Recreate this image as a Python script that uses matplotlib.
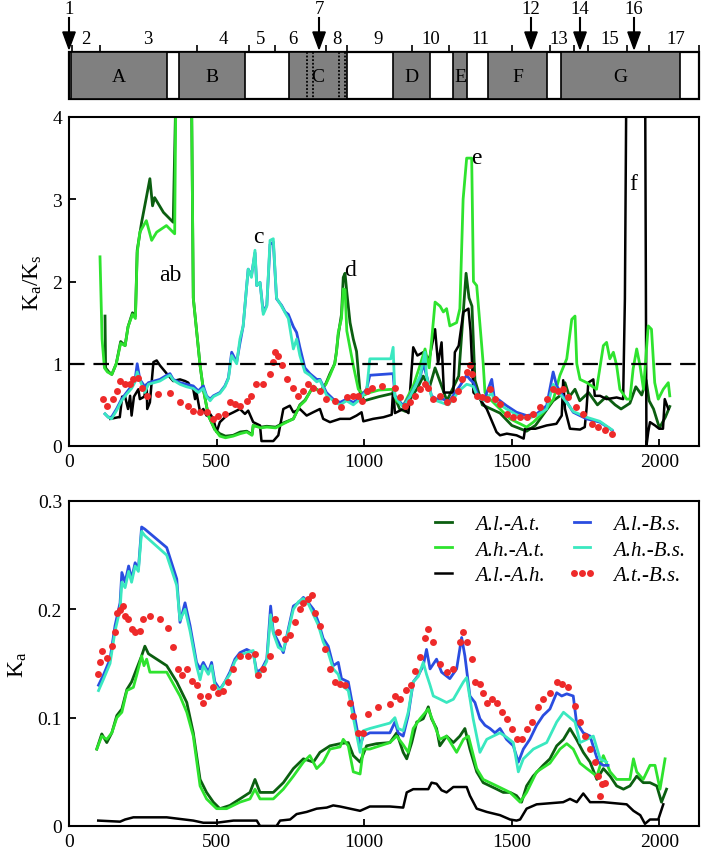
import matplotlib
matplotlib.use("Agg")
import matplotlib.pyplot as plt
from matplotlib.patches import Rectangle

plt.rcParams['font.family'] = ['Liberation Serif', 'DejaVu Serif']
plt.rcParams['mathtext.default'] = 'regular'

# ---------------- gene structure (top strip) ----------------
XMAX = 2134
domain_names = ['A', 'B', 'C', 'D', 'E', 'F', 'G']
domain_start = [7, 373, 745, 1097, 1301, 1419, 1666]
domain_end = [332, 596, 942, 1223, 1348, 1619, 2069]
dotted_pos = [805, 827, 915, 936]
exon_ticks = [10, 105, 434, 610, 698, 870, 942, 1162, 1287, 1500, 1629,
              1710, 1758, 1890, 1964]
exon_labels = ['2', '3', '4', '5', '6', '8', '9', '10', '11', '13', '15', '17']
exon_label_pos = [58, 268, 522, 650, 759, 908, 1047, 1226, 1395, 1660, 1832, 2056]
arrow_labels = ['1', '7', '12', '14', '16']
arrow_pos = [0, 847, 1565, 1731, 1914]

# ---------------- Ka/Ks (middle panel) ----------------
ks_alat_x = [122, 124, 135, 145, 160, 175, 190, 200, 215, 225, 231, 246, 263, 274, 283, 290,
             320, 353, 362, 415, 421, 444, 455, 472, 494, 511, 530, 556, 580, 602, 620, 624,
             650, 670, 700, 726, 760, 782, 800, 827, 850, 870, 884, 900, 906, 912, 923, 929,
             935, 941, 952, 963, 974, 986, 1000, 1050, 1098, 1120, 1140, 1160, 1180, 1200,
             1220, 1240, 1260, 1280, 1300, 1320, 1335, 1345, 1355, 1365, 1375, 1400, 1430,
             1460, 1500, 1550, 1580, 1610, 1640, 1663, 1680, 1695, 1714, 1730, 1760, 1790,
             1820, 1850, 1870, 1900, 1920, 1940, 1955, 1965, 1980, 2000, 2020, 2035]
ks_alat_y = [1.58, 0.95, 0.9, 0.87, 1.0, 1.27, 1.22, 1.45, 1.62, 1.58, 2.38, 2.72, 3.04, 3.25,
             2.92, 3.02, 2.84, 2.72, 4.3, 4.3, 1.8, 0.98, 0.69, 0.37, 0.2, 0.15, 0.12, 0.13,
             0.17, 0.18, 0.14, 0.25, 0.23, 0.24, 0.23, 0.28, 0.33, 0.5, 0.56, 0.72, 0.66, 0.76,
             0.88, 1.0, 1.15, 1.35, 1.6, 2.05, 2.1, 1.87, 1.5, 1.3, 1.15, 0.65, 0.55, 0.6, 0.64,
             0.45, 0.42, 0.6, 0.7, 0.85, 0.7, 0.95, 0.75, 0.55, 0.7, 0.85, 1.6, 2.1, 1.8, 1.7,
             0.8, 0.5, 0.45, 0.4, 0.25, 0.18, 0.25, 0.4, 0.55, 0.61, 0.77, 0.6, 0.69, 0.55,
             0.65, 0.5, 0.6, 0.5, 0.45, 0.52, 0.72, 0.62, 0.8, 0.55, 0.45, 0.22, 0.35, 0.48]

ks_ahat_x = [105, 112, 120, 130, 145, 160, 175, 190, 200, 215, 225, 231, 240, 262, 280, 297,
             330, 358, 362, 415, 421, 444, 455, 472, 494, 511, 530, 556, 580, 602, 620, 624,
             650, 670, 700, 726, 760, 782, 800, 827, 850, 870, 884, 900, 906, 912, 923, 929,
             935, 941, 963, 980, 1000, 1019, 1050, 1098, 1109, 1132, 1166, 1189, 1206, 1220,
             1240, 1257, 1268, 1279, 1290, 1313, 1324, 1335, 1347, 1364, 1370, 1381, 1398,
             1403, 1409, 1426, 1460, 1494, 1528, 1550, 1573, 1607, 1641, 1663, 1686, 1703,
             1714, 1720, 1731, 1754, 1787, 1810, 1821, 1832, 1844, 1855, 1866, 1889, 1900,
             1911, 1923, 1934, 1946, 1962, 1973, 1984, 1996, 2013, 2030, 2035]
ks_ahat_y = [2.3, 1.3, 0.95, 0.9, 0.87, 1.0, 1.25, 1.22, 1.45, 1.6, 1.55, 2.35, 2.6, 2.74, 2.5,
             2.6, 2.68, 2.58, 4.3, 4.3, 1.8, 0.98, 0.69, 0.37, 0.2, 0.12, 0.1, 0.12, 0.15, 0.17,
             0.13, 0.25, 0.22, 0.23, 0.22, 0.27, 0.33, 0.49, 0.55, 0.73, 0.65, 0.75, 0.86, 1.0,
             1.14, 1.38, 1.55, 1.91, 1.9, 1.4, 0.98, 0.69, 0.62, 0.65, 0.68, 0.69, 0.55, 0.49,
             0.73, 0.98, 1.18, 0.95, 1.75, 1.7, 1.63, 1.67, 1.46, 1.5, 1.67, 3.0, 3.5, 3.5, 2.0,
             1.95, 1.22, 1.0, 0.65, 0.57, 0.45, 0.33, 0.27, 0.23, 0.29, 0.41, 0.57, 0.86, 1.06,
             1.54, 1.58, 1.0, 0.81, 0.77, 0.69, 1.22, 1.26, 1.06, 1.14, 0.98, 0.69, 0.57, 0.57,
             0.94, 1.18, 0.98, 0.69, 1.46, 1.42, 0.77, 0.57, 0.69, 0.77, 0.61]

ks_alah_x = [140, 167, 172, 180, 190, 200, 207, 212, 220, 235, 240, 255, 263, 265, 274, 286,
             297, 308, 331, 353, 376, 393, 404, 410, 421, 427, 432, 444, 455, 466, 478, 489,
             500, 511, 534, 557, 579, 596, 607, 624, 647, 652, 692, 709, 726, 748, 760, 782,
             805, 827, 850, 861, 884, 918, 952, 974, 991, 997, 1030, 1065, 1093, 1098, 1104,
             1132, 1150, 1166, 1180, 1200, 1220, 1240, 1250, 1262, 1270, 1302, 1307, 1320,
             1336, 1353, 1360, 1370, 1392, 1415, 1448, 1460, 1483, 1516, 1540, 1545, 1580,
             1618, 1651, 1669, 1674, 1680, 1697, 1731, 1747, 1753, 1759, 1776, 1781, 1799,
             1821, 1855, 1877, 1883, 1889, 1951, 1956, 1962, 1968, 1985, 1999, 2012, 2018, 2030]
ks_alah_y = [0.33, 0.35, 0.35, 0.6, 0.6, 0.45, 0.61, 0.37, 0.6, 0.69, 0.57, 0.6, 0.75, 0.45,
             0.53, 1.02, 1.04, 0.98, 0.88, 0.79, 0.81, 0.79, 0.77, 0.73, 0.69, 0.57, 0.65, 0.41,
             0.45, 0.37, 0.39, 0.33, 0.17, 0.29, 0.37, 0.41, 0.45, 0.39, 0.43, 0.29, 0.25, 0.06,
             0.06, 0.13, 0.45, 0.49, 0.41, 0.45, 0.37, 0.41, 0.45, 0.33, 0.29, 0.33, 0.33, 0.37,
             0.41, 0.3, 0.33, 0.35, 0.38, 0.7, 0.4, 0.45, 0.4, 1.2, 1.1, 1.14, 1.05, 1.42, 1.0,
             1.26, 0.65, 0.65, 1.14, 1.22, 1.63, 1.67, 1.4, 0.65, 0.57, 0.45, 0.17, 0.13, 0.15,
             0.13, 0.09, 0.21, 0.21, 0.25, 0.27, 0.37, 0.8, 0.45, 0.21, 0.2, 0.23, 0.45, 0.77,
             0.81, 0.61, 0.61, 0.57, 0.59, 0.57, 1.79, 5.0, 5.0, 0.0, 0.17, 0.29, 0.25, 0.21,
             0.21, 0.57, 0.45]

ks_albs_x = [122, 133, 144, 161, 178, 195, 212, 224, 231, 240, 257, 269, 308, 331, 342, 353,
             376, 398, 421, 438, 455, 466, 478, 489, 511, 528, 540, 551, 568, 579, 590, 602,
             607, 618, 630, 636, 647, 658, 670, 681, 692, 703, 720, 732, 743, 760, 771, 782,
             799, 816, 839, 850, 872, 895, 918, 940, 963, 980, 1008, 1019, 1098, 1104, 1132,
             1155, 1172, 1189, 1200, 1211, 1228, 1245, 1268, 1285, 1324, 1347, 1358, 1370,
             1386, 1409, 1432, 1440, 1460, 1482, 1516, 1550, 1584, 1618, 1640, 1652, 1675,
             1708, 1753, 1798, 1832, 1840]
ks_albs_y = [0.39, 0.35, 0.35, 0.45, 0.57, 0.65, 0.73, 0.81, 1.0, 0.81, 0.72, 0.77, 0.81, 0.86,
             0.88, 0.81, 0.77, 0.75, 0.73, 0.67, 0.73, 0.61, 0.57, 0.61, 0.65, 0.73, 0.83, 1.14,
             1.02, 1.25, 1.46, 1.95, 2.15, 2.07, 2.35, 1.95, 1.99, 1.63, 1.71, 2.45, 2.48, 1.79,
             1.71, 1.63, 1.6, 1.45, 1.38, 1.2, 0.95, 0.88, 0.81, 0.81, 0.65, 0.57, 0.53, 0.57,
             0.53, 0.57, 0.69, 0.86, 0.88, 0.61, 0.49, 0.61, 0.73, 0.83, 1.0, 0.86, 0.61, 0.57,
             0.57, 0.53, 0.73, 0.86, 0.81, 0.77, 0.61, 0.59, 0.81, 0.6, 0.55, 0.49, 0.41, 0.37,
             0.39, 0.49, 0.9, 0.73, 0.6, 0.41, 0.33, 0.29, 0.21, 0.19]

ks_ahbs_x = [122, 133, 144, 161, 178, 195, 212, 224, 231, 240, 257, 269, 308, 331, 342, 353,
             376, 398, 421, 438, 455, 466, 478, 489, 511, 528, 540, 551, 568, 579, 590, 602,
             607, 618, 630, 636, 647, 658, 670, 681, 692, 703, 720, 732, 743, 760, 771, 782,
             799, 816, 839, 850, 872, 895, 918, 940, 963, 980, 1008, 1019, 1090, 1098, 1104,
             1132, 1155, 1172, 1189, 1206, 1211, 1228, 1245, 1268, 1285, 1324, 1347, 1358,
             1370, 1386, 1409, 1432, 1440, 1460, 1482, 1516, 1550, 1584, 1618, 1640, 1652,
             1675, 1708, 1753, 1798, 1838]
ks_ahbs_y = [0.39, 0.35, 0.33, 0.43, 0.55, 0.63, 0.7, 0.78, 0.9, 0.8, 0.65, 0.75, 0.79, 0.84,
             0.86, 0.8, 0.75, 0.72, 0.7, 0.65, 0.7, 0.6, 0.55, 0.6, 0.64, 0.72, 0.82, 1.1, 1.0,
             1.3, 1.46, 1.95, 2.15, 2.05, 2.38, 1.95, 1.99, 1.6, 1.7, 2.5, 2.52, 1.8, 1.7,
             1.62, 1.55, 1.18, 1.3, 1.1, 0.9, 0.86, 0.78, 0.8, 0.62, 0.55, 0.5, 0.55, 0.5, 0.55,
             0.67, 1.06, 1.06, 1.2, 0.6, 0.47, 0.6, 0.72, 0.85, 1.14, 0.85, 0.6, 0.55, 0.52,
             0.5, 0.68, 0.75, 0.74, 0.72, 0.58, 0.55, 0.65, 0.55, 0.5, 0.45, 0.38, 0.33, 0.37,
             0.45, 0.75, 0.68, 0.58, 0.42, 0.35, 0.3, 0.2]

ks_atbs_x = [116, 128, 150, 161, 173, 190, 207, 218, 235, 246, 263, 302, 342, 376, 404, 421,
             444, 466, 489, 506, 528, 545, 562, 579, 602, 618, 635, 658, 681, 692, 698, 709,
             720, 737, 760, 777, 794, 811, 828, 850, 872, 901, 923, 940, 963, 980, 991, 1008,
             1025, 1059, 1104, 1121, 1138, 1155, 1172, 1189, 1206, 1217, 1234, 1256, 1279,
             1302, 1319, 1330, 1347, 1358, 1364, 1381, 1398, 1415, 1426, 1443, 1460, 1482,
             1505, 1528, 1550, 1573, 1596, 1618, 1640, 1657, 1674, 1691, 1719, 1742, 1770,
             1793, 1815, 1838]
ks_atbs_y = [0.57, 0.49, 0.57, 0.67, 0.79, 0.75, 0.75, 0.81, 0.83, 0.71, 0.61, 0.63, 0.65,
             0.53, 0.49, 0.43, 0.41, 0.41, 0.33, 0.37, 0.39, 0.53, 0.51, 0.49, 0.55, 0.61,
             0.75, 0.75, 0.88, 1.02, 1.14, 1.1, 0.98, 0.81, 0.71, 0.61, 0.67, 0.75, 0.7, 0.67,
             0.57, 0.55, 0.47, 0.59, 0.61, 0.61, 0.55, 0.67, 0.71, 0.73, 0.71, 0.59, 0.49, 0.53,
             0.61, 0.69, 0.75, 0.71, 0.57, 0.61, 0.53, 0.57, 0.67, 0.81, 0.9, 0.98, 0.88, 0.61,
             0.59, 0.57, 0.69, 0.57, 0.51, 0.39, 0.35, 0.35, 0.35, 0.39, 0.47, 0.57, 0.69,
             0.67, 0.69, 0.59, 0.47, 0.39, 0.27, 0.23, 0.19, 0.15]

ks_notes = ['ab', 'c', 'd', 'e', 'f']
ks_note_x = [342, 641, 952, 1381, 1911]
ks_note_y = [2.09, 2.55, 2.15, 3.51, 3.19]

# ---------------- Ka (bottom panel) ----------------
ka_alat_x = [94, 111, 128, 145, 162, 179, 196, 212, 229, 246, 257, 269, 331, 365, 399, 421,
             444, 466, 489, 511, 545, 579, 613, 630, 647, 692, 726, 760, 794, 828, 850, 884,
             918, 946, 963, 986, 1008, 1042, 1087, 1110, 1132, 1144, 1161, 1178, 1200, 1217,
             1228, 1245, 1256, 1279, 1302, 1324, 1341, 1358, 1381, 1403, 1426, 1449, 1471,
             1494, 1516, 1533, 1550, 1572, 1606, 1629, 1652, 1675, 1697, 1719, 1742, 1765,
             1788, 1810, 1833, 1855, 1878, 1900, 1923, 1945, 1968, 1991, 2007, 2024]
ka_alat_y = [0.071, 0.085, 0.077, 0.086, 0.102, 0.108, 0.126, 0.133, 0.145, 0.157, 0.166,
             0.159, 0.148, 0.133, 0.114, 0.086, 0.043, 0.031, 0.022, 0.016, 0.019, 0.025,
             0.031, 0.043, 0.031, 0.031, 0.04, 0.053, 0.062, 0.059, 0.068, 0.074, 0.076, 0.077,
             0.065, 0.059, 0.074, 0.076, 0.077, 0.086, 0.068, 0.062, 0.077, 0.096, 0.099, 0.11,
             0.099, 0.09, 0.074, 0.083, 0.077, 0.083, 0.09, 0.071, 0.05, 0.04, 0.037, 0.034,
             0.031, 0.031, 0.028, 0.022, 0.037, 0.046, 0.056, 0.062, 0.074, 0.08, 0.09, 0.08,
             0.068, 0.059, 0.043, 0.053, 0.046, 0.037, 0.034, 0.037, 0.046, 0.04, 0.04, 0.037,
             0.022, 0.034]

ka_ahat_x = [94, 111, 128, 145, 162, 179, 196, 218, 229, 246, 254, 263, 274, 331, 376, 399,
             421, 444, 466, 500, 534, 579, 613, 630, 647, 692, 726, 760, 794, 816, 839, 861,
             884, 918, 929, 946, 963, 986, 997, 1019, 1087, 1110, 1132, 1149, 1166, 1189, 1217,
             1234, 1256, 1279, 1313, 1336, 1353, 1381, 1403, 1449, 1494, 1528, 1550, 1584,
             1629, 1663, 1686, 1708, 1731, 1754, 1788, 1810, 1833, 1855, 1900, 1912, 1923,
             1945, 1968, 1985, 2002, 2019]
ka_ahat_y = [0.071, 0.083, 0.08, 0.086, 0.1, 0.105, 0.125, 0.128, 0.139, 0.157, 0.148, 0.154,
             0.142, 0.142, 0.12, 0.105, 0.083, 0.037, 0.025, 0.016, 0.016, 0.022, 0.025, 0.034,
             0.025, 0.025, 0.034, 0.046, 0.059, 0.065, 0.053, 0.059, 0.071, 0.073, 0.08, 0.074,
             0.05, 0.048, 0.071, 0.071, 0.077, 0.083, 0.075, 0.068, 0.09, 0.099, 0.108, 0.096,
             0.08, 0.083, 0.068, 0.08, 0.083, 0.053, 0.043, 0.037, 0.031, 0.022, 0.031, 0.05,
             0.058, 0.071, 0.076, 0.071, 0.058, 0.053, 0.046, 0.065, 0.05, 0.043, 0.043, 0.062,
             0.05, 0.043, 0.056, 0.056, 0.034, 0.062]

ka_alah_x = [99, 173, 190, 218, 331, 421, 455, 500, 557, 636, 647, 703, 715, 749, 771, 805,
             839, 873, 895, 918, 952, 986, 1019, 1087, 1132, 1144, 1166, 1217, 1228, 1245,
             1262, 1279, 1302, 1347, 1358, 1381, 1415, 1460, 1494, 1516, 1528, 1550, 1584,
             1674, 1697, 1720, 1742, 1765, 1810, 1889, 1912, 1935, 1951, 1968, 1996, 2013]
ka_alah_y = [0.005, 0.004, 0.006, 0.008, 0.008, 0.005, 0.003, 0.003, 0.005, 0.005, 0.0, 0.0,
             0.005, 0.006, 0.011, 0.013, 0.016, 0.017, 0.019, 0.018, 0.016, 0.014, 0.018,
             0.018, 0.017, 0.031, 0.034, 0.034, 0.04, 0.039, 0.033, 0.031, 0.036, 0.036, 0.028,
             0.016, 0.013, 0.01, 0.006, 0.005, 0.006, 0.016, 0.02, 0.022, 0.025, 0.022, 0.03,
             0.022, 0.022, 0.02, 0.014, 0.01, 0.002, 0.006, 0.006, 0.02]

ka_albs_x = [100, 116, 139, 156, 173, 179, 190, 202, 212, 224, 235, 246, 257, 331, 365, 376,
             393, 410, 432, 444, 455, 472, 483, 494, 511, 528, 545, 562, 579, 602, 624, 636,
             653, 670, 683, 692, 709, 726, 743, 760, 777, 794, 811, 828, 845, 861, 878, 895,
             912, 923, 946, 963, 986, 997, 1019, 1087, 1104, 1115, 1132, 1149, 1166, 1183,
             1200, 1211, 1223, 1245, 1262, 1290, 1313, 1330, 1341, 1358, 1375, 1392, 1409,
             1426, 1443, 1460, 1482, 1505, 1522, 1539, 1561, 1584, 1606, 1629, 1652, 1669,
             1686, 1708, 1719, 1742, 1765, 1782, 1793, 1810, 1826]
ka_albs_y = [0.13, 0.139, 0.154, 0.185, 0.206, 0.234, 0.225, 0.24, 0.228, 0.243, 0.237, 0.276,
             0.274, 0.257, 0.228, 0.188, 0.206, 0.185, 0.151, 0.145, 0.151, 0.142, 0.151,
             0.133, 0.126, 0.133, 0.142, 0.154, 0.16, 0.163, 0.16, 0.142, 0.145, 0.154, 0.203,
             0.179, 0.17, 0.16, 0.182, 0.203, 0.206, 0.211, 0.206, 0.2, 0.188, 0.173, 0.166,
             0.148, 0.151, 0.136, 0.133, 0.108, 0.074, 0.083, 0.086, 0.086, 0.096, 0.086,
             0.083, 0.102, 0.133, 0.139, 0.148, 0.163, 0.145, 0.154, 0.142, 0.136, 0.145,
             0.174, 0.157, 0.12, 0.114, 0.099, 0.093, 0.09, 0.086, 0.09, 0.08, 0.074, 0.059,
             0.071, 0.08, 0.093, 0.102, 0.108, 0.123, 0.12, 0.122, 0.12, 0.096, 0.086, 0.083,
             0.068, 0.059, 0.056, 0.056]

ka_ahbs_x = [100, 116, 139, 156, 173, 179, 190, 202, 212, 224, 235, 246, 257, 331, 365, 376,
             393, 410, 432, 444, 455, 472, 483, 494, 511, 528, 545, 562, 579, 602, 624, 636,
             653, 670, 683, 692, 709, 726, 743, 760, 777, 794, 811, 828, 845, 861, 878, 895,
             912, 923, 946, 963, 986, 997, 1019, 1087, 1104, 1115, 1132, 1149, 1166, 1183,
             1200, 1211, 1223, 1234, 1257, 1279, 1302, 1336, 1347, 1369, 1392, 1415, 1437,
             1460, 1482, 1505, 1522, 1539, 1573, 1618, 1652, 1675, 1697, 1714, 1731, 1754,
             1776, 1799, 1821]
ka_ahbs_y = [0.125, 0.135, 0.15, 0.18, 0.2, 0.225, 0.22, 0.235, 0.225, 0.24, 0.235, 0.272,
             0.268, 0.25, 0.222, 0.19, 0.2, 0.18, 0.148, 0.135, 0.148, 0.14, 0.148, 0.13, 0.125,
             0.133, 0.14, 0.152, 0.158, 0.16, 0.162, 0.138, 0.143, 0.152, 0.195, 0.178, 0.165,
             0.162, 0.18, 0.2, 0.207, 0.21, 0.205, 0.195, 0.185, 0.17, 0.16, 0.145, 0.14, 0.13,
             0.125, 0.1, 0.068, 0.088, 0.09, 0.095, 0.1, 0.09, 0.088, 0.105, 0.133, 0.138,
             0.151, 0.14, 0.13, 0.12, 0.117, 0.114, 0.117, 0.133, 0.137, 0.099, 0.068, 0.08,
             0.083, 0.086, 0.082, 0.077, 0.05, 0.062, 0.071, 0.077, 0.096, 0.105, 0.1, 0.096,
             0.077, 0.08, 0.083, 0.062, 0.059]

ka_atbs_x = [99, 105, 111, 128, 145, 156, 162, 173, 184, 190, 201, 212, 224, 240, 252, 274,
             308, 336, 353, 370, 382, 399, 415, 432, 444, 455, 472, 489, 506, 523, 540, 557,
             579, 607, 630, 641, 658, 681, 698, 709, 732, 749, 766, 782, 794, 811, 822, 834,
             850, 867, 884, 901, 918, 934, 951, 963, 980, 997, 1014, 1048, 1087, 1104, 1121,
             1143, 1160, 1172, 1189, 1206, 1217, 1234, 1257, 1279, 1302, 1324, 1336, 1347,
             1364, 1375, 1392, 1403, 1415, 1432, 1449, 1466, 1482, 1499, 1516, 1533, 1550,
             1567, 1589, 1606, 1629, 1652, 1669, 1691, 1714, 1731, 1748, 1765, 1782, 1793,
             1804, 1816, 1800]
ka_atbs_y = [0.14, 0.151, 0.162, 0.155, 0.166, 0.179, 0.197, 0.199, 0.203, 0.194, 0.191,
             0.182, 0.179, 0.18, 0.191, 0.194, 0.191, 0.183, 0.165, 0.145, 0.139, 0.145, 0.134,
             0.13, 0.12, 0.114, 0.12, 0.128, 0.123, 0.125, 0.133, 0.145, 0.157, 0.157, 0.159,
             0.139, 0.145, 0.157, 0.191, 0.179, 0.173, 0.176, 0.188, 0.2, 0.206, 0.21, 0.213,
             0.197, 0.185, 0.163, 0.145, 0.133, 0.131, 0.13, 0.114, 0.102, 0.086, 0.086, 0.103,
             0.11, 0.113, 0.12, 0.117, 0.126, 0.13, 0.143, 0.156, 0.174, 0.182, 0.17, 0.15,
             0.142, 0.145, 0.17, 0.179, 0.17, 0.154, 0.133, 0.131, 0.123, 0.114, 0.117, 0.114,
             0.105, 0.099, 0.09, 0.08, 0.08, 0.09, 0.096, 0.11, 0.117, 0.123, 0.133, 0.131,
             0.128, 0.111, 0.096, 0.083, 0.071, 0.059, 0.046, 0.039, 0.04, 0.028]

pair_labels = ['A.l.-A.t.', 'A.h.-A.t.', 'A.l.-A.h.', 'A.l.-B.s.', 'A.h.-B.s.', 'A.t.-B.s.']
pair_colors = ['#0b5e10', '#2ee32e', '#000000', '#2a4de0', '#3ae8c0', '#ee2a2a']

# ---------------- figure ----------------
W, H = 702, 853
fig = plt.figure(figsize=(W / 100, H / 100), dpi=100)

# top strip, y in pixels
ax0 = fig.add_axes([69 / W, 1 - 105 / H, 630 / W, 105 / H])
ax0.set_xlim(0, XMAX)
ax0.set_ylim(105, 0)
ax0.axis('off')
ax0.add_patch(Rectangle((0, 53), XMAX, 47, fill=False, ec='black', lw=1.6, clip_on=False))
ax0.broken_barh([(s, e - s) for s, e in zip(domain_start, domain_end)], (53, 47),
                facecolors='#808080', edgecolors='black', linewidth=1.2)
for s, e, name in zip(domain_start, domain_end, domain_names):
    ax0.text((s + e) / 2, 77, name, ha='center', va='center', fontsize=14)
ax0.vlines(dotted_pos, 53, 100, colors='black', linestyles=(0, (1, 1)), lw=1.3)
ax0.vlines(exon_ticks + [XMAX], 46, 53, colors='black', lw=1.2, clip_on=False)
for lab, x in zip(exon_labels, exon_label_pos):
    ax0.text(x, 40, lab, ha='center', va='center', fontsize=13.5)
for lab, x in zip(arrow_labels, arrow_pos):
    ax0.text(x, 10, lab, ha='center', va='center', fontsize=13.5, clip_on=False)
    ax0.plot([x, x], [19, 35], color='black', lw=1.5, clip_on=False)
    ax0.fill([x - 21, x + 21, x], [33, 33, 50], color='black', clip_on=False)


def style_axes(ax):
    for sp in ax.spines.values():
        sp.set_linewidth(1.5)
    ax.tick_params(direction='in', length=5, width=1.3, labelsize=14,
                   top=False, right=False, pad=5)
    ax.set_xlim(0, XMAX)
    ax.set_xticks([0, 500, 1000, 1500, 2000])


# middle: Ka/Ks
ax1 = fig.add_axes([69 / W, (H - 447) / H, 630 / W, 329 / H])
style_axes(ax1)
ax1.set_ylim(0, 4)
ax1.set_yticks([0, 1, 2, 3, 4])
ks_series = [(ks_alat_x, ks_alat_y), (ks_ahat_x, ks_ahat_y), (ks_alah_x, ks_alah_y),
             (ks_albs_x, ks_albs_y), (ks_ahbs_x, ks_ahbs_y)]
ks_order = [0, 2, 1, 3, 4]
for i in ks_order:
    xs, ys = ks_series[i]
    ax1.plot(xs, ys, color=pair_colors[i], lw=2.0 if i != 2 else 1.8)
ax1.plot(ks_atbs_x, ks_atbs_y, 'o', color=pair_colors[5], ms=5, mec='none')
ax1.axhline(1, color='black', lw=1.6, dashes=(7, 4), zorder=5)
for t, x, y in zip(ks_notes, ks_note_x, ks_note_y):
    ax1.text(x, y, t, ha='center', va='center', fontsize=17)
ax1.set_ylabel('K$_a$/K$_s$', fontsize=17, labelpad=6)

# bottom: Ka
ax2 = fig.add_axes([69 / W, (H - 827) / H, 630 / W, 325 / H])
style_axes(ax2)
ax2.set_ylim(0, 0.3)
ax2.set_yticks([0, 0.1, 0.2, 0.3])
ax2.set_yticklabels(['0', '0.1', '0.2', '0.3'])
ka_series = [(ka_alat_x, ka_alat_y), (ka_ahat_x, ka_ahat_y), (ka_alah_x, ka_alah_y),
             (ka_albs_x, ka_albs_y), (ka_ahbs_x, ka_ahbs_y)]
handles = [None] * 6
for i in [0, 2, 1, 3, 4]:
    xs, ys = ka_series[i]
    handles[i], = ax2.plot(xs, ys, color=pair_colors[i], lw=2.0 if i != 2 else 1.8,
                           label=pair_labels[i])
handles[5], = ax2.plot(ka_atbs_x, ka_atbs_y, 'o', color=pair_colors[5], ms=5, mec='none',
                       label=pair_labels[5])
ax2.legend(handles=handles, ncol=2, loc='upper right', frameon=False,
           prop={'style': 'italic', 'size': 15}, handlelength=1.4, handletextpad=0.8,
           columnspacing=1.1, labelspacing=0.28, numpoints=3, borderaxespad=0.25)
ax2.set_ylabel('K$_a$', fontsize=17, labelpad=6)

fig.savefig('out.png', dpi=100)
